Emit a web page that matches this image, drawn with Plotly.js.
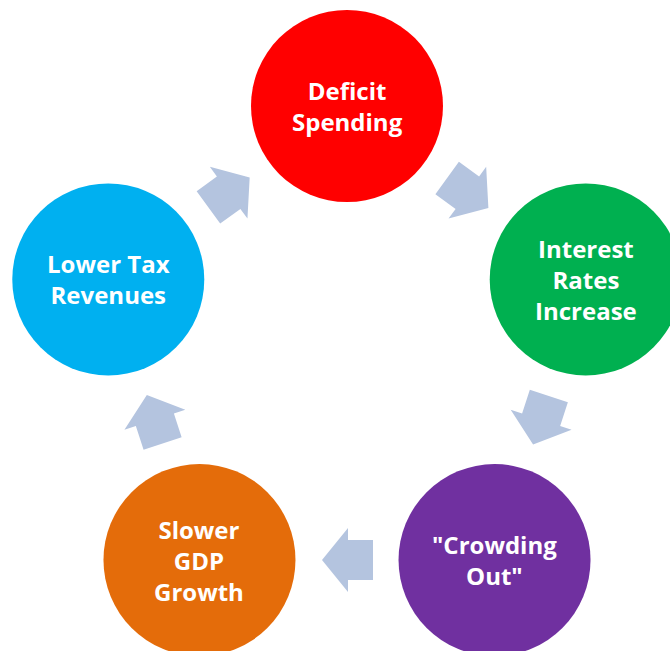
<!DOCTYPE html>
<html>
<head>
<meta charset="utf-8">
<script src="https://cdn.plot.ly/plotly-3.0.1.min.js"></script>
<style>html,body{margin:0;padding:0;background:#fff;}#chart{width:670px;height:651px;}</style>
</head>
<body>
<div id="chart"></div>
<script>
// Cycle steps, in clockwise order starting at the top
const stepLabels = ['Deficit<br>Spending', 'Interest<br>Rates<br>Increase', '"Crowding<br>Out"', 'Slower<br>GDP<br>Growth', 'Lower Tax<br>Revenues'];
const stepColors = ['#FF0000', '#00B050', '#7030A0', '#E46C0A', '#00B0F0'];
const arrowColor = '#B4C4DF';

// Layout geometry
const cx = 347, cy = 357, ringR = 251, nodeD = 192;
const n = stepLabels.length;
const nodeAngle = i => (-90 + 360 / n * i) * Math.PI / 180;
const xs = stepLabels.map((_, i) => cx + ringR * Math.cos(nodeAngle(i)));
const ys = stepLabels.map((_, i) => cy + ringR * Math.sin(nodeAngle(i)));

const circles = {
  type: 'scatter', mode: 'markers', x: xs, y: ys,
  marker: {size: nodeD, color: stepColors, line: {width: 0}, opacity: 1},
  hoverinfo: 'skip', showlegend: false
};

// Block arrows between consecutive steps
const shaftLen = 25, headLen = 26, shaftHalf = 20, headHalf = 32;
const shapes = [];
for (let i = 0; i < n; i++) {
  const j = (i + 1) % n;
  const mx = (xs[i] + xs[j]) / 2 + 1, my = (ys[i] + ys[j]) / 2;
  const dx = xs[j] - xs[i], dy = ys[j] - ys[i];
  const L = Math.hypot(dx, dy);
  const ux = dx / L, uy = dy / L, vx = -uy, vy = ux;
  const local = [[-shaftLen, -shaftHalf], [0, -shaftHalf], [0, -headHalf], [headLen, 0],
                 [0, headHalf], [0, shaftHalf], [-shaftLen, shaftHalf]];
  const pts = local.map(([u, v]) => [mx + u * ux + v * vx, my + u * uy + v * vy]);
  const path = 'M' + pts.map(p => p[0].toFixed(2) + ',' + p[1].toFixed(2)).join(' L') + ' Z';
  shapes.push({type: 'path', xref: 'x', yref: 'y', path: path, fillcolor: arrowColor,
               line: {width: 0}, layer: 'below'});
}

const annotations = stepLabels.map((t, i) => ({
  x: xs[i], y: ys[i], xref: 'x', yref: 'y', text: '<b>' + t + '</b>', showarrow: false,
  font: {family: 'Open Sans, sans-serif', size: 24, color: '#FFFFFF'}, align: 'center',
  xanchor: 'center', yanchor: 'middle'
}));

const layout = {
  width: 670, height: 651,
  margin: {l: 0, r: 0, t: 0, b: 0},
  paper_bgcolor: '#FFFFFF', plot_bgcolor: '#FFFFFF',
  xaxis: {range: [0, 670], visible: false, fixedrange: true},
  yaxis: {range: [651, 0], visible: false, fixedrange: true},
  shapes: shapes, annotations: annotations, showlegend: false
};

Plotly.newPlot('chart', [circles], layout, {displayModeBar: false, staticPlot: true});
</script>
</body>
</html>
